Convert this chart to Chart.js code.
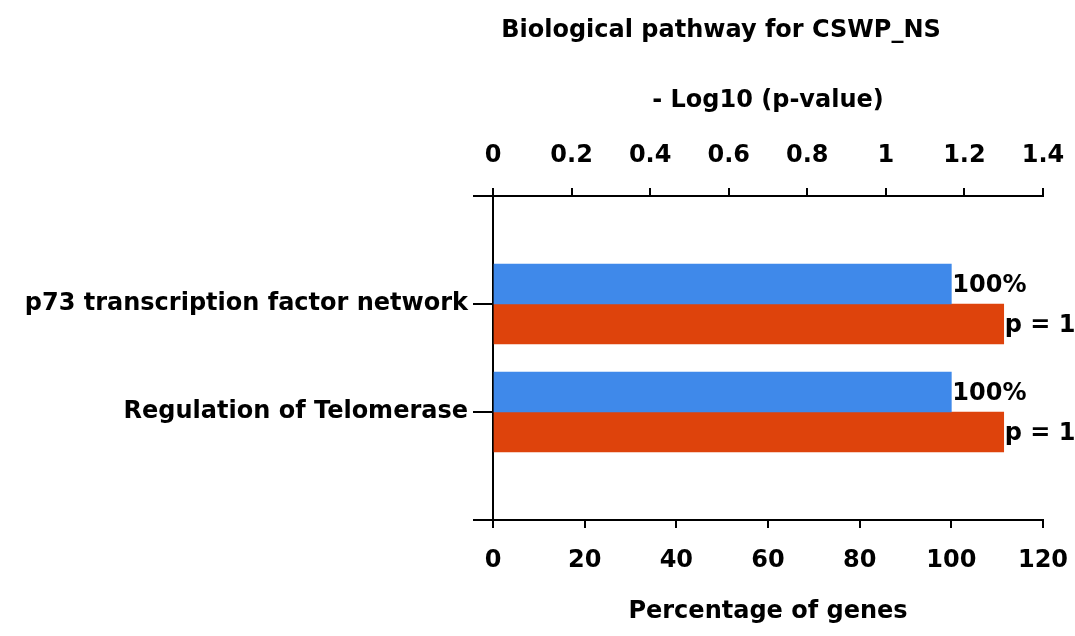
<!DOCTYPE html>
<html>
<head>
<meta charset="utf-8">
<script src="https://cdn.jsdelivr.net/npm/chart.js@4"></script>
<style>
  html, body { margin: 0; padding: 0; background: #fff; }
  canvas { display: block; }
</style>
</head>
<body>
<canvas id="pathwayChart" width="1075" height="636"></canvas>
<script>
// Data for chart
const categories = ['p73 transcription factor network', 'Regulation of Telomerase'];
const percentGenes = [100, 100];          // bottom axis (blue)
const negLog10P = [1.30, 1.30];           // top axis (red)
const pLabels = ['p = 1', 'p = 1'];
const chartTitle = 'Biological pathway for CSWP_NS';

const FONT = "'DejaVu Sans', sans-serif";
const BLUE = '#3f89ea';
const RED = '#de430c';

// empty slots at both ends so the two categories sit at 1/3 and 2/3 of the height
const yLabels = ['', ...categories, ''];
const pad = arr => [null, ...arr, null];

// Title drawn a little left of the plot centre, like the original
const titlePlugin = {
    id: 'sheetTitle',
    afterDraw(chart) {
        const ctx = chart.ctx;
        ctx.save();
        ctx.font = `bold 24px ${FONT}`;
        ctx.fillStyle = '#000';
        ctx.textAlign = 'center';
        ctx.textBaseline = 'middle';
        ctx.fillText(chartTitle, 721, 31);
        ctx.restore();
    }
};

// Value labels right after each bar end
const barLabels = {
    id: 'barLabels',
    afterDatasetsDraw(chart) {
        const ctx = chart.ctx;
        ctx.save();
        ctx.font = `bold 24px ${FONT}`;
        ctx.fillStyle = '#000';
        ctx.textAlign = 'left';
        ctx.textBaseline = 'middle';
        chart.data.datasets.forEach((ds, di) => {
            const meta = chart.getDatasetMeta(di);
            meta.data.forEach((bar, i) => {
                if (ds.data[i] === null) return;
                const text = di === 0 ? ds.data[i] + '%' : pLabels[i - 1];
                ctx.fillText(text, bar.x + 1, bar.y + 2);
            });
        });
        ctx.restore();
    }
};

const axisFont = { family: FONT, size: 24, weight: 'bold' };

// let layout padding decide the right edge instead of label overhang
const fitX = h => s => { s.height = h; s.paddingLeft = 0; s.paddingRight = 0; };

const ctx = document.getElementById('pathwayChart').getContext('2d');
const chart = new Chart(ctx, {
    type: 'bar',
    data: {
        labels: yLabels,
        datasets: [{
            label: 'Percentage of genes',
            data: pad(percentGenes),
            backgroundColor: BLUE,
            xAxisID: 'x',
            barThickness: 40
        }, {
            label: '- Log10 (p-value)',
            data: pad(negLog10P),
            backgroundColor: RED,
            xAxisID: 'x2',
            barThickness: 40
        }]
    },
    options: {
        indexAxis: 'y',
        responsive: false,
        animation: false,
        layout: { padding: { left: 0, right: 32, top: 0, bottom: 0 } },
        scales: {
            y: {
                offset: false,
                grid: { offset: false, drawOnChartArea: false, color: '#000', lineWidth: 2, tickLength: 20 },
                border: { color: '#000', width: 2 },
                ticks: { color: '#000', font: axisFont, padding: 5, autoSkip: false },
                afterFit: s => { s.width = 493; }
            },
            x: {
                position: 'bottom',
                min: 0,
                max: 120,
                grid: { drawOnChartArea: false, color: '#000', lineWidth: 2, tickLength: 8 },
                border: { color: '#000', width: 2 },
                ticks: { stepSize: 20, color: '#000', font: axisFont, padding: 18 },
                title: {
                    display: true,
                    text: 'Percentage of genes',
                    color: '#000',
                    font: axisFont,
                    padding: { top: 0, bottom: 10 }
                },
                afterFit: fitX(116)
            },
            x2: {
                position: 'top',
                min: 0,
                max: 1.4,
                grid: { drawOnChartArea: false, color: '#000', lineWidth: 2, tickLength: 8 },
                border: { color: '#000', width: 2 },
                ticks: {
                    stepSize: 0.2, color: '#000', font: axisFont, padding: 18,
                    callback: v => String(+v.toFixed(2))
                },
                title: {
                    display: true,
                    text: '- Log10 (p-value)',
                    color: '#000',
                    font: axisFont,
                    padding: { top: 86, bottom: 0 }
                },
                afterFit: fitX(196)
            }
        },
        plugins: {
            legend: { display: false },
            tooltip: { enabled: false }
        }
    },
    plugins: [titlePlugin, barLabels]
});
</script>
</body>
</html>
